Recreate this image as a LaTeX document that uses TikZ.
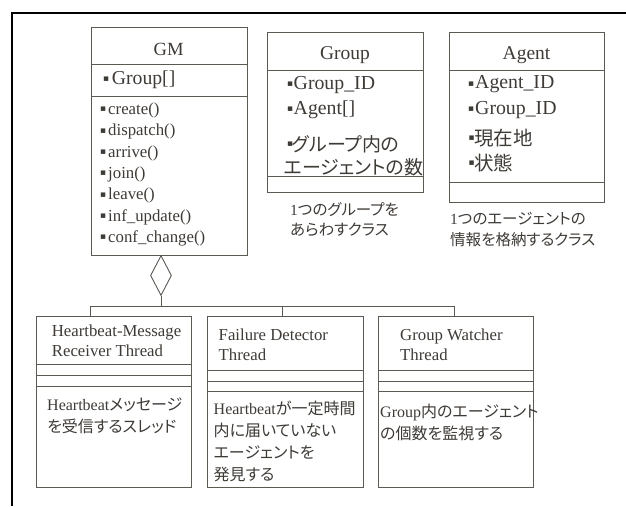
\documentclass[tikz,border=0pt]{standalone}
\usepackage{fontspec}
\usetikzlibrary{shapes.geometric}
\setmainfont{Liberation Serif}
\newfontfamily\jp[RawFeature=+palt]{Noto Sans CJK JP}
\newfontfamily\sym{DejaVu Sans}
\definecolor{txt}{RGB}{62,58,54}
\definecolor{ln}{RGB}{92,88,82}
\newcommand\fsz[1]{\fontsize{#1}{#1}\selectfont}
\newcommand\bu[1]{\makebox[#1][l]{\raisebox{2.6pt}{\sym\fsz{9}▪}}}
\newcommand\bj[1]{\makebox[#1][l]{\raisebox{5pt}{\sym\fsz{9}▪}}}
\begin{document}
\begin{tikzpicture}[x=1pt,y=-1pt,
  box/.style={draw=ln,line width=0.9pt,inner sep=0,anchor=north west},
  lb/.style={text=txt,inner sep=0,anchor=base west},
  ct/.style={text=txt,inner sep=0,anchor=base},
  div/.style={draw=ln,line width=0.9pt},
  conn/.style={draw=ln,line width=0.9pt}]
\useasboundingbox (0,0) rectangle (626,506);
\draw[line width=2.2pt,black] (626,12.6) -- (11.8,12.6) -- (11.8,506);

% ---------- GM ----------
\node[box,minimum width=156pt,minimum height=227.7pt] (gm) at (90.7,27.3) {};
\draw[div] (90.7,64.3) -- (246.7,64.3);
\draw[div] (90.7,96.7) -- (246.7,96.7);
\node[ct,font=\fsz{18.6}] (gmT) at (168.7,55) {GM};
\node[lb,font=\fsz{19.7}] (gmA) at (103,84) {\bu{8.7pt}Group[]};
\node[lb,font=\fsz{16.8}] (gm1) at (100,114.3) {\bu{8pt}create()};
\node[lb,font=\fsz{16.8}] (gm2) at (100,135.6) {\bu{8pt}dispatch()};
\node[lb,font=\fsz{16.8}] (gm3) at (100,157.0) {\bu{8pt}arrive()};
\node[lb,font=\fsz{16.8}] (gm4) at (100,178.3) {\bu{8pt}join()};
\node[lb,font=\fsz{16.8}] (gm5) at (100,199.6) {\bu{8pt}leave()};
\node[lb,font=\fsz{16.8}] (gm6) at (100,221.0) {\bu{8pt}inf\_update()};
\node[lb,font=\fsz{16.8}] (gm7) at (100,242.3) {\bu{8pt}conf\_change()};

% ---------- Group ----------
\node[box,minimum width=155.4pt,minimum height=159.4pt] (grp) at (267.3,32.3) {};
\draw[div] (267.3,70) -- (422.7,70);
\draw[div] (267.3,176.7) -- (422.7,176.7);
\node[ct,font=\fsz{19.5}] (grpT) at (345,59.5) {Group};
\node[lb,font=\fsz{19.8}] (grp1) at (287,89) {\bu{6.5pt}Group\_ID};
\node[lb,font=\fsz{19.8}] (grp2) at (287,114) {\bu{6.5pt}Agent[]};
\node[lb,font=\fsz{19}] (grp3) at (287,151.2) {\bj{5pt}\jp グループ内の};
\node[lb,font=\fsz{19}] (grp4) at (283.7,174.7) {\jp エージェントの数};
\node[lb,font=\fsz{15.5}] (grpC1) at (290,215.9) {1\jp つのグループを};
\node[lb,font=\fsz{15.5}] (grpC2) at (290,235.9) {\jp あらわすクラス};

% ---------- Agent ----------
\node[box,minimum width=155pt,minimum height=170pt] (agt) at (449,32.3) {};
\draw[div] (449,70) -- (604,70);
\draw[div] (449,182.3) -- (604,182.3);
\node[ct,font=\fsz{19.5}] (agtT) at (526.5,59.5) {Agent};
\node[lb,font=\fsz{19.8}] (agt1) at (468,88.8) {\bu{7pt}Agent\_ID};
\node[lb,font=\fsz{19.8}] (agt2) at (468,114) {\bu{7pt}Group\_ID};
\node[lb,font=\fsz{19.5}] (agt3) at (468.5,145.5) {\bj{5.5pt}\jp 現在地};
\node[lb,font=\fsz{19.5}] (agt4) at (468.5,170.5) {\bj{5.5pt}\jp 状態};
\node[lb,font=\fsz{15.5}] (agtC1) at (450,224.9) {1\jp つのエージェントの};
\node[lb,font=\fsz{15.5}] (agtC2) at (450,245.9) {\jp 情報を格納するクラス};

% ---------- Threads ----------
\node[box,minimum width=155.3pt,minimum height=171.3pt] (t1) at (35.7,316) {};
\draw[div] (35.7,364.3) -- (191,364.3);
\draw[div] (35.7,375.7) -- (191,375.7);
\draw[div] (35.7,386.5) -- (191,386.5);
\node[lb,font=\fsz{16.75}] (t1a) at (51.7,336) {Heartbeat-Message};
\node[lb,font=\fsz{16.75}] (t1b) at (51.7,356.5) {Receiver Thread};
\node[lb,font=\fsz{16}] (t1c) at (47,410.2) {Heartbeat{\jp メッセージ}};
\node[lb,font=\fsz{16}] (t1d) at (47,432.4) {\jp を受信するスレッド};

\node[box,minimum width=155.8pt,minimum height=171.3pt] (t2) at (206.7,316) {};
\draw[div] (206.7,370.5) -- (362.5,370.5);
\draw[div] (206.7,381) -- (362.5,381);
\draw[div] (206.7,391.5) -- (362.5,391.5);
\node[lb,font=\fsz{16.75}] (t2a) at (218.5,340) {Failure Detector};
\node[lb,font=\fsz{16.75}] (t2b) at (218.5,360.5) {Thread};
\node[lb,font=\fsz{16}] (t2c) at (213.5,414.9) {Heartbeat{\jp が一定時間}};
\node[lb,font=\fsz{16}] (t2d) at (213.5,436.9) {\jp 内に届いていない};
\node[lb,font=\fsz{16}] (t2e) at (213.5,458.9) {\jp エージェントを};
\node[lb,font=\fsz{16}] (t2f) at (213.5,480.9) {\jp 発見する};

\node[box,minimum width=155pt,minimum height=171.3pt] (t3) at (378.3,316) {};
\draw[div] (378.3,370.5) -- (533.3,370.5);
\draw[div] (378.3,381) -- (533.3,381);
\draw[div] (378.3,391.5) -- (533.3,391.5);
\node[lb,font=\fsz{16.75}] (t3a) at (400,340.5) {Group Watcher};
\node[lb,font=\fsz{16.75}] (t3b) at (400,360.5) {Thread};
\node[lb,font=\fsz{16}] (t3c) at (380,417.6) {Group{\jp 内のエージェント}};
\node[lb,font=\fsz{16}] (t3d) at (380,439.2) {\jp の個数を監視する};

% ---------- aggregation ----------
\node[diamond,draw=ln,line width=0.9pt,fill=white,inner sep=0,
      minimum width=21pt,minimum height=40pt] (dia) at (161,275.5) {};
\coordinate (j0) at (161,306);
\coordinate (j1) at (90.7,306);
\coordinate (j2) at (282.7,306);
\coordinate (j3) at (454,306);
\draw[conn] (dia.south) -- (j0);
\draw[conn] (j1) -- (j3);
\draw[conn] (j1) -- (j1 |- t1.north);
\draw[conn] (j2) -- (j2 |- t2.north);
\draw[conn] (j3) -- (j3 |- t3.north);
\end{tikzpicture}
\end{document}
